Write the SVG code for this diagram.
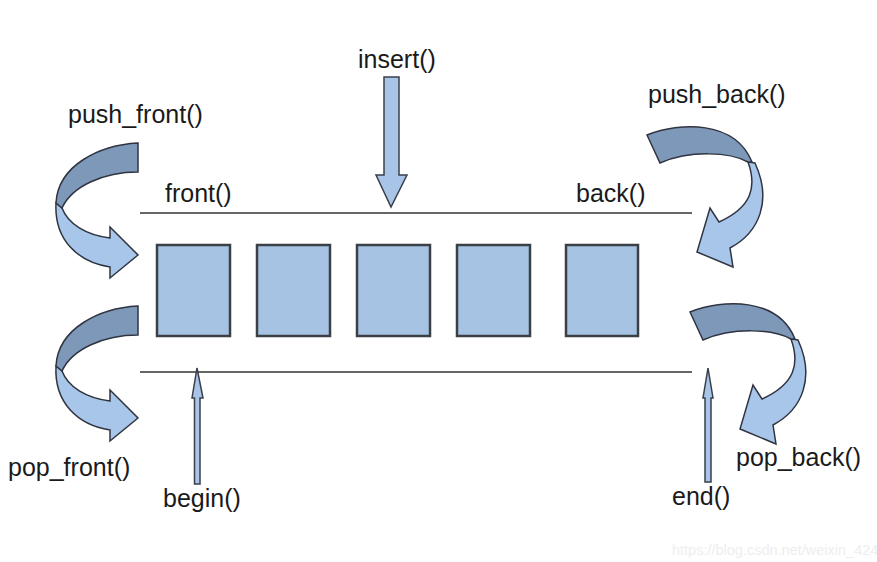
<svg xmlns="http://www.w3.org/2000/svg" width="877" height="562" viewBox="0 0 877 562">
<style>
  .lbl { font-family: "Liberation Sans", Arial, sans-serif; font-size: 25px; fill: #1a1a1a; }
  .box { fill: #a6c3e3; stroke: #3b3f46; stroke-width: 2.5; }
  .arr { fill: #a8c5e8; stroke: #3a3f4a; stroke-width: 1.5; stroke-linejoin: miter; }
  .dark { fill: #7e98ba; stroke: #2f3440; stroke-width: 1.5; }
  .light { fill: #a8c6ea; stroke: #2f3440; stroke-width: 1.5; }
  .rule { stroke: #333; stroke-width: 1.5; fill: none; }
  .wm { font-family: "Liberation Sans", Arial, sans-serif; font-size: 14.5px; fill: #eeeeee; }
</style>
<defs>
  <g id="curlLeft">
    <path class="light" d="M56,203 C54,240 78,262 110,267 L110,278 L138,255 L110,227 L110,238 C86,235 68,224 62,208 Z"/>
    <path class="dark" d="M138,143 C100,145 58,165 56,203 L62,208 C72,186 104,172 138,172 Z"/>
  </g>
  <g id="curlRight">
    <path class="light" d="M748,162 C757,187 752,207 719,222 L710,208 L697,252 L733,267 L730,248 C760,232 772,200 755,163 Z"/>
    <path class="dark" d="M647,135 C680,122 735,120 752,162 L748,162 C730,152 690,150 660,163 Z"/>
  </g>
</defs>
<rect width="877" height="562" fill="#ffffff"/>

<g id="connectors">
  <line class="rule" x1="140" y1="213" x2="692" y2="213"/>
  <line class="rule" x1="140" y1="372" x2="692" y2="372"/>
</g>

<g id="box1"><rect class="box" x="157" y="245" width="73" height="91"/></g>
<g id="box2"><rect class="box" x="257" y="245" width="73" height="91"/></g>
<g id="box3"><rect class="box" x="357" y="245" width="73" height="91"/></g>
<g id="box4"><rect class="box" x="457" y="245" width="73" height="91"/></g>
<g id="box5"><rect class="box" x="566" y="245" width="72" height="91"/></g>

<g id="insert">
  <polygon class="arr" points="384,77 399,77 399,175 407,175 391,207 376,175 384,175"/>
  <text class="lbl" x="358" y="68">insert()</text>
</g>

<g id="push_front">
  <use href="#curlLeft"/>
  <text class="lbl" x="68" y="123">push_front()</text>
</g>

<g id="pop_front">
  <use href="#curlLeft" transform="translate(0,163)"/>
  <text class="lbl" x="8" y="476">pop_front()</text>
</g>

<g id="push_back">
  <use href="#curlRight"/>
  <text class="lbl" x="648" y="103">push_back()</text>
</g>

<g id="pop_back">
  <use href="#curlRight" transform="translate(43,177)"/>
  <text class="lbl" x="736" y="466">pop_back()</text>
</g>

<g id="front"><text class="lbl" x="165" y="202">front()</text></g>
<g id="back"><text class="lbl" x="576" y="202">back()</text></g>

<g id="begin">
  <polygon class="arr" points="197,368 203,398 200,398 200,484 194.5,484 194.5,398 192,398"/>
  <text class="lbl" x="163" y="507">begin()</text>
</g>

<g id="end">
  <polygon class="arr" points="708,368 713,398 711,398 711,482 705,482 705,398 703,398"/>
  <text class="lbl" x="672" y="505">end()</text>
</g>

<text class="wm" x="672" y="555">https://blog.csdn.net/weixin_424</text>
</svg>
